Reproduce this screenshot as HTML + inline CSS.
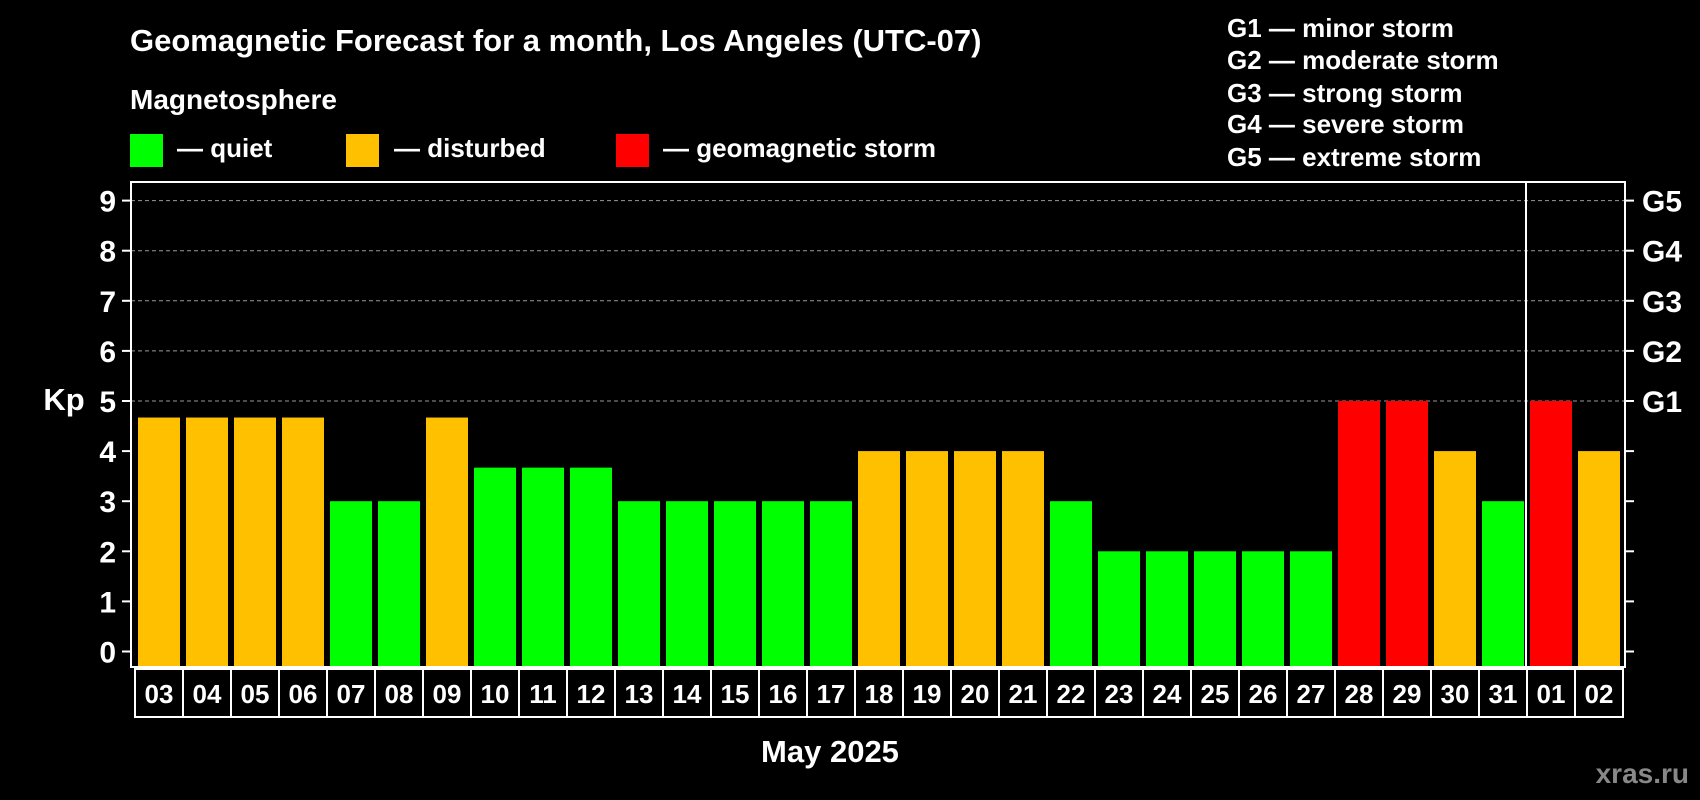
<!DOCTYPE html>
<html><head><meta charset="utf-8"><style>
body{margin:0;background:#000;width:1700px;height:800px;overflow:hidden}
svg{display:block;font-family:"Liberation Sans",Arial,sans-serif;font-weight:bold}
</style></head><body>
<svg id="chart" width="1700" height="800" viewBox="0 0 1700 800">
<text x="130" y="51" fill="#fff" font-size="31">Geomagnetic Forecast for a month, Los Angeles (UTC-07)</text>
<text x="130" y="109" fill="#fff" font-size="28">Magnetosphere</text>
<g><rect x="130" y="134" width="33" height="33" fill="#00ff00"/><text x="177" y="157" fill="#fff" font-size="26">— quiet</text></g>
<g><rect x="346" y="134" width="33" height="33" fill="#ffc000"/><text x="394" y="157" fill="#fff" font-size="26">— disturbed</text></g>
<g><rect x="616" y="134" width="33" height="33" fill="#ff0000"/><text x="663" y="157" fill="#fff" font-size="26">— geomagnetic storm</text></g>
<g fill="#fff" font-size="26">
<text x="1227" y="37">G1 — minor storm</text>
<text x="1227" y="69">G2 — moderate storm</text>
<text x="1227" y="102">G3 — strong storm</text>
<text x="1227" y="133">G4 — severe storm</text>
<text x="1227" y="166">G5 — extreme storm</text>
</g>
<text x="64" y="410" fill="#fff" font-size="31" text-anchor="middle">Kp</text>
<g id="grid"></g><g id="bars"></g><g id="axes"></g>
<text x="830" y="762" fill="#fff" font-size="31" text-anchor="middle">May 2025</text>
<text x="1689" y="783" fill="#888" font-size="28" text-anchor="end">xras.ru</text>
</svg>
<script>
const categories=["03","04","05","06","07","08","09","10","11","12","13","14","15","16","17","18","19","20","21","22","23","24","25","26","27","28","29","30","31","01","02"];
const kpValues=[4.67,4.67,4.67,4.67,3,3,4.67,3.67,3.67,3.67,3,3,3,3,3,4,4,4,4,3,2,2,2,2,2,5,5,4,3,5,4];
const yTicks=[0,1,2,3,4,5,6,7,8,9];
const gLabels=["G1","G2","G3","G4","G5"];
const NS="http://www.w3.org/2000/svg";
const L=131,R=1625,T=182,B=667,Y0=651.5,PX=50.1,X0=135,STEP=48;
const y=v=>Y0-v*PX, x=i=>X0+i*STEP;
function mk(tag,attrs,parent){const e=document.createElementNS(NS,tag);for(const k in attrs)e.setAttribute(k,attrs[k]);parent.appendChild(e);return e;}
const grid=document.getElementById('grid'),bars=document.getElementById('bars'),axes=document.getElementById('axes');
yTicks.forEach(v=>{
 if(v>=5){const g=mk('line',{x1:L,x2:R,y1:y(v),y2:y(v),stroke:'#999','stroke-dasharray':'4,3','stroke-width':1},grid);
 
 }
 const t1=mk('line',{x1:L-9,x2:L,y1:y(v),y2:y(v),stroke:'#fff','stroke-width':2},axes);
 
 
 const t2=mk('line',{x1:R,x2:R+9,y1:y(v),y2:y(v),stroke:'#fff','stroke-width':2},axes);
 
 
 const tl=mk('text',{x:116,y:y(v)+11,fill:'#fff','font-size':30,'text-anchor':'end'},axes);tl.textContent=v;
 
 
});
gLabels.forEach((g,i)=>{const t=mk('text',{x:1642,y:y(5+i)+11,fill:'#fff','font-size':30},axes);t.textContent=g;
 
 });
kpValues.forEach((v,i)=>{
 const c=v>=5?'#ff0000':v>=4?'#ffc000':'#00ff00';
 const b=mk('rect',{x:x(i)+3,y:y(v),width:42,height:B-y(v),fill:c},bars);
 
 
 const cell=mk('rect',{x:x(i),y:669,width:STEP,height:48,fill:'none',stroke:'#fff','stroke-width':2},axes);
 
 
 const t=mk('text',{x:x(i)+STEP/2,y:703,fill:'#fff','font-size':26,'text-anchor':'middle'},axes);t.textContent=categories[i];
 
 
});
const fr=mk('rect',{x:L,y:T,width:R-L,height:B-T,fill:'none',stroke:'#fff','stroke-width':2},axes);


const idx=categories.indexOf("01");
const dv=mk('line',{x1:x(idx)-1,x2:x(idx)-1,y1:T,y2:B,stroke:'#fff','stroke-width':2},axes);


</script>
</body></html>
